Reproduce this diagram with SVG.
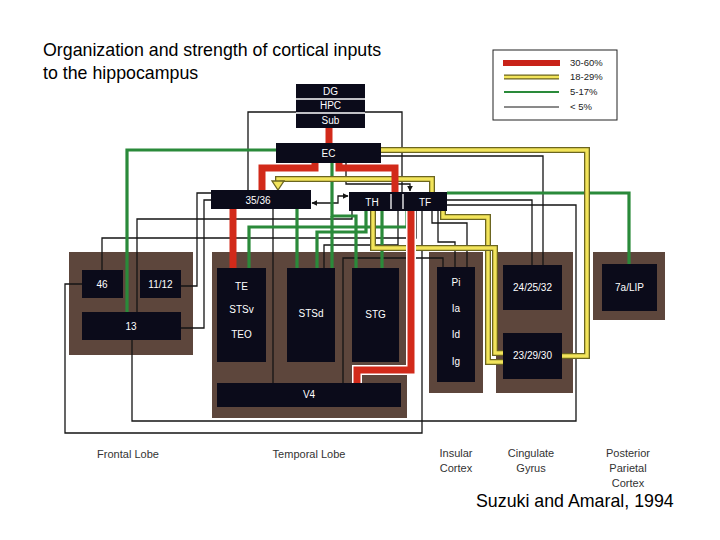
<svg xmlns="http://www.w3.org/2000/svg" width="720" height="540" viewBox="0 0 720 540">
<defs>
<style>
.panel{fill:#5d463c}
.node{fill:#0b0b1a}
.lbl{fill:#ffffff;font-family:"Liberation Sans",Arial,sans-serif;font-size:10px;text-anchor:middle}
.cap{fill:#333333;font-family:"Liberation Sans",Arial,sans-serif;font-size:11px;text-anchor:middle}
.title{fill:#000000;font-family:"Liberation Sans",Arial,sans-serif;font-size:17.8px}
.leg{fill:#222222;font-family:"Liberation Sans",Arial,sans-serif;font-size:9.5px}
.k{fill:none;stroke:#151515;stroke-width:1.3}
.g{fill:none;stroke:#2a8a3a;stroke-width:3.2}
.rw{fill:none;stroke:#ffffff;stroke-width:10}
.r{fill:none;stroke:#d22a1a;stroke-width:7}
.yo{fill:none;stroke:#6b6520;stroke-width:6}
.yi{fill:none;stroke:#f2e45a;stroke-width:3.4}
.sep{stroke:#ffffff;stroke-width:1.3}
</style>
<marker id="ak" viewBox="0 0 10 10" refX="9" refY="5" markerWidth="6" markerHeight="6" orient="auto-start-reverse" markerUnits="userSpaceOnUse"><path d="M0,0 L10,5 L0,10 z" fill="#151515"/></marker>
</defs>
<rect width="720" height="540" fill="#ffffff"/>

<text class="title" x="43" y="56">Organization and strength of cortical inputs</text>
<text class="title" x="43" y="79">to the hippocampus</text>

<g id="legend">
<rect x="493" y="50" width="124" height="70" fill="#ffffff" stroke="#222222" stroke-width="1"/>
<line x1="503" y1="63" x2="560" y2="63" stroke="#c82218" stroke-width="6"/>
<line x1="504" y1="77" x2="559" y2="77" stroke="#6b6520" stroke-width="5"/>
<line x1="504" y1="77" x2="559" y2="77" stroke="#f2e45a" stroke-width="2.6"/>
<line x1="504" y1="92" x2="559" y2="92" stroke="#2a8a3a" stroke-width="2"/>
<line x1="504" y1="107" x2="559" y2="107" stroke="#151515" stroke-width="1"/>
<text class="leg" x="570" y="66">30-60%</text>
<text class="leg" x="570" y="80">18-29%</text>
<text class="leg" x="570" y="95">5-17%</text>
<text class="leg" x="570" y="110">&lt; 5%</text>
</g>

<g id="panels">
<rect class="panel" x="69" y="252" width="124" height="103"/>
<rect class="panel" x="212" y="252" width="195" height="166"/>
<rect class="panel" x="429" y="252" width="54" height="141"/>
<rect class="panel" x="496" y="252" width="77" height="141"/>
<rect class="panel" x="593" y="252" width="72" height="68"/>
</g>

<g id="connectors">
<!-- black < 5% -->
<path class="k" d="M296,112 H248 V190"/>
<path class="k" d="M365,112 H402 V192"/>
<path class="k" d="M381,156 H543 V265"/>
<path class="k" d="M447,200 H532 V265"/>
<path class="k" d="M447,205 H576 V421 H132 V340"/>
<path class="k" d="M82,284 H65 V433 H422 V211"/>
<path class="k" d="M181,286 H197 V193 H211"/>
<path class="k" d="M181,328 H204 V200 H211"/>
<path class="k" d="M137,312 V219 H352 V211"/>
<path class="k" d="M102,270 V238 H416 V211"/>
<path class="k" d="M273,209 V383"/>
<path class="k" d="M343,383 V258 H443 V267"/>
<path class="k" d="M324,268 V245 H398 V211"/>
<path class="k" d="M467,267 V223 H432 V211"/>
<path class="k" d="M455,267 V242 H438 V211"/>
<path class="k" d="M346,163 V184 H410 V191" marker-end="url(#ak)"/>
<path class="k" d="M312,203 H338 V196 H348" marker-start="url(#ak)" marker-end="url(#ak)"/>
<!-- green 5-17% -->
<path class="g" d="M127,312 V150 H276"/>
<path class="g" d="M629,264 V193 H447"/>
<path class="g" d="M249,268 V227 H407 V211"/>
<path class="g" d="M297,268 V209"/>
<path class="g" d="M317,268 V232 H366 V211"/>
<path class="g" d="M332,163 V216 H356 V268"/>
<path class="g" d="M332,216 V268"/>
<path class="g" d="M382,268 V211"/>
<!-- yellow 18-29% -->
<path class="yo" d="M381,150 H587 V356 H562"/>
<path class="yi" d="M381,150 H587 V356 H562"/>
<path class="yo" d="M432,192 V179 H278 V183"/>
<path class="yi" d="M432,192 V179 H278 V183"/>
<polygon points="272,181 284,181 278,190" fill="#f2e45a" stroke="#6b6520" stroke-width="1.3"/>
<path class="yo" d="M443,211 V217 H488 V362 H503"/>
<path class="yi" d="M443,211 V217 H488 V362 H503"/>
<path class="yo" d="M373,211 V248 H495 V353 H503"/>
<path class="yi" d="M373,211 V248 H495 V353 H503"/>
<!-- red 30-60% -->
<path class="rw" d="M411,211 V370 H357 V383"/>
<path class="r" d="M329,128 V143"/>
<path class="r" d="M315,163 V168 H262 V190"/>
<path class="r" d="M339,163 V168 H395 V192"/>
<path class="r" d="M233,209 V268"/>
<path class="r" d="M411,211 V370 H357 V383"/>
</g>

<g id="n-hippo">
<rect class="node" x="296" y="84" width="69" height="44"/>
<line class="sep" x1="296" y1="99" x2="365" y2="99"/>
<line class="sep" x1="296" y1="113" x2="365" y2="113"/>
<text class="lbl" x="330.5" y="95" font-size="9.5">DG</text>
<text class="lbl" x="330.5" y="109" font-size="9.5">HPC</text>
<text class="lbl" x="330.5" y="124" font-size="9.5">Sub</text>
</g>
<g id="n-EC"><rect class="node" x="276" y="143" width="105" height="20"/><text class="lbl" x="328.5" y="157">EC</text></g>
<g id="n-3536"><rect class="node" x="211" y="190" width="100" height="19"/><text class="lbl" x="258" y="204" font-size="12">35/36</text></g>
<g id="n-THTF">
<rect class="node" x="349" y="192" width="98" height="19"/>
<line class="sep" x1="391" y1="194" x2="391" y2="209"/>
<line class="sep" x1="403" y1="194" x2="403" y2="209"/>
<text class="lbl" x="372" y="206" font-size="12">TH</text>
<text class="lbl" x="425" y="206" font-size="12">TF</text>
</g>
<g id="n-46"><rect class="node" x="82" y="270" width="41" height="28"/><text class="lbl" x="102" y="288" font-size="9.5">46</text></g>
<g id="n-1112"><rect class="node" x="140" y="270" width="41" height="28"/><text class="lbl" x="160.5" y="288" font-size="9.5">11/12</text></g>
<g id="n-13"><rect class="node" x="82" y="312" width="99" height="28"/><text class="lbl" x="131" y="330">13</text></g>
<g id="n-TE">
<rect class="node" x="217" y="268" width="49" height="94"/>
<text class="lbl" x="241.5" y="290">TE</text>
<text class="lbl" x="241.5" y="313">STSv</text>
<text class="lbl" x="241.5" y="338">TEO</text>
</g>
<g id="n-STSd"><rect class="node" x="287" y="268" width="48" height="94"/><text class="lbl" x="311" y="317">STSd</text></g>
<g id="n-STG"><rect class="node" x="352" y="268" width="47" height="94"/><text class="lbl" x="375.5" y="318">STG</text></g>
<g id="n-V4"><rect class="node" x="217" y="383" width="184" height="24"/><text class="lbl" x="309" y="398">V4</text></g>
<g id="n-insula">
<rect class="node" x="437" y="267" width="38" height="115"/>
<text class="lbl" x="456" y="286">Pi</text>
<text class="lbl" x="456" y="312">Ia</text>
<text class="lbl" x="456" y="338">Id</text>
<text class="lbl" x="456" y="365">Ig</text>
</g>
<g id="n-242532"><rect class="node" x="503" y="265" width="59" height="45"/><text class="lbl" x="532.5" y="291">24/25/32</text></g>
<g id="n-232930"><rect class="node" x="503" y="333" width="59" height="46"/><text class="lbl" x="532.5" y="359">23/29/30</text></g>
<g id="n-7aLIP"><rect class="node" x="602" y="264" width="55" height="47"/><text class="lbl" x="629.5" y="291">7a/LIP</text></g>

<g id="captions">
<text class="cap" x="128" y="458">Frontal Lobe</text>
<text class="cap" x="309" y="458">Temporal Lobe</text>
<text class="cap" x="456" y="457">Insular</text>
<text class="cap" x="456" y="472">Cortex</text>
<text class="cap" x="531" y="457">Cingulate</text>
<text class="cap" x="531" y="472">Gyrus</text>
<text class="cap" x="628" y="457">Posterior</text>
<text class="cap" x="628" y="472">Parietal</text>
<text class="cap" x="628" y="487">Cortex</text>
</g>
<text class="title" x="476" y="507" font-size="18.5">Suzuki and Amaral, 1994</text>
</svg>
